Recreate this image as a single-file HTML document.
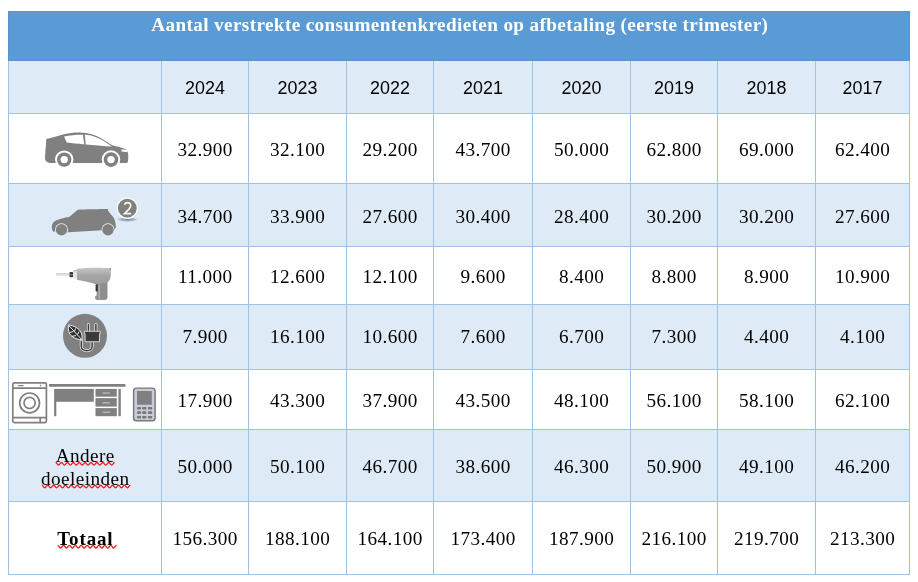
<!DOCTYPE html>
<html><head><meta charset="utf-8"><style>
html,body{margin:0;padding:0;background:#fff;width:918px;height:582px;overflow:hidden;}
.r{position:absolute;}
.t{position:absolute;will-change:transform;line-height:30px;height:30px;text-align:center;white-space:nowrap;color:#000;}

svg{position:absolute;}
</style></head><body>
<div class="r" style="left:8px;top:11px;width:902px;height:50px;background:#5B9BD5"></div>
<div class="r" style="left:8px;top:61px;width:902px;height:52px;background:#DEEAF6"></div>
<div class="r" style="left:8px;top:184px;width:902px;height:62px;background:#DEEAF6"></div>
<div class="r" style="left:8px;top:305px;width:902px;height:64px;background:#DEEAF6"></div>
<div class="r" style="left:8px;top:430px;width:902px;height:71px;background:#DEEAF6"></div>
<div class="r" style="left:8px;top:60px;width:1px;height:515px;background:#9DC3E6"></div>
<div class="r" style="left:161px;top:60px;width:1px;height:515px;background:#9DC3E6"></div>
<div class="r" style="left:248px;top:60px;width:1px;height:515px;background:#9DC3E6"></div>
<div class="r" style="left:346px;top:60px;width:1px;height:515px;background:#9DC3E6"></div>
<div class="r" style="left:433px;top:60px;width:1px;height:515px;background:#9DC3E6"></div>
<div class="r" style="left:532px;top:60px;width:1px;height:515px;background:#9DC3E6"></div>
<div class="r" style="left:630px;top:60px;width:1px;height:515px;background:#9DC3E6"></div>
<div class="r" style="left:717px;top:60px;width:1px;height:515px;background:#9DC3E6"></div>
<div class="r" style="left:815px;top:60px;width:1px;height:515px;background:#9DC3E6"></div>
<div class="r" style="left:909px;top:60px;width:1px;height:515px;background:#9DC3E6"></div>
<div class="r" style="left:8px;top:113px;width:902px;height:1px;background:#9DC3E6"></div>
<div class="r" style="left:8px;top:183px;width:902px;height:1px;background:#9DC3E6"></div>
<div class="r" style="left:8px;top:246px;width:902px;height:1px;background:#9DC3E6"></div>
<div class="r" style="left:8px;top:304px;width:902px;height:1px;background:#9DC3E6"></div>
<div class="r" style="left:8px;top:369px;width:902px;height:1px;background:#9DC3E6"></div>
<div class="r" style="left:8px;top:429px;width:902px;height:1px;background:#9DC3E6"></div>
<div class="r" style="left:8px;top:501px;width:902px;height:1px;background:#9DC3E6"></div>
<div class="r" style="left:8px;top:574px;width:902px;height:1px;background:#9DC3E6"></div>
<div class="r" style="left:8px;top:11px;width:902px;height:1px;background:#5396D4"></div>
<div class="r" style="left:8px;top:60px;width:902px;height:1px;background:#5396D4"></div>
<div class="r" style="left:8px;top:11px;width:1px;height:50px;background:#5396D4"></div>
<div class="r" style="left:909px;top:11px;width:1px;height:50px;background:#5396D4"></div>
<div class="t" style="left:8px;width:902px;top:10.02px;font-family:'Liberation Serif', serif;font-size:19.2px;font-weight:bold;color:#fff;letter-spacing:0.37px;text-indent:1.6px;">Aantal verstrekte consumentenkredieten op afbetaling (eerste trimester)</div>
<div class="t" style="left:162px;width:86px;top:72.60px;font-family:'Liberation Sans', sans-serif;font-size:17.9px;">2024</div>
<div class="t" style="left:249px;width:97px;top:72.60px;font-family:'Liberation Sans', sans-serif;font-size:17.9px;">2023</div>
<div class="t" style="left:347px;width:86px;top:72.60px;font-family:'Liberation Sans', sans-serif;font-size:17.9px;">2022</div>
<div class="t" style="left:434px;width:98px;top:72.60px;font-family:'Liberation Sans', sans-serif;font-size:17.9px;">2021</div>
<div class="t" style="left:533px;width:97px;top:72.60px;font-family:'Liberation Sans', sans-serif;font-size:17.9px;">2020</div>
<div class="t" style="left:631px;width:86px;top:72.60px;font-family:'Liberation Sans', sans-serif;font-size:17.9px;">2019</div>
<div class="t" style="left:718px;width:97px;top:72.60px;font-family:'Liberation Sans', sans-serif;font-size:17.9px;">2018</div>
<div class="t" style="left:816px;width:93px;top:72.60px;font-family:'Liberation Sans', sans-serif;font-size:17.9px;">2017</div>
<div class="t" style="left:162px;width:86px;top:134.52px;font-family:'Liberation Serif', serif;font-size:19.2px;letter-spacing:0.4px;text-indent:0.4px;">32.900</div>
<div class="t" style="left:249px;width:97px;top:134.52px;font-family:'Liberation Serif', serif;font-size:19.2px;letter-spacing:0.4px;text-indent:0.4px;">32.100</div>
<div class="t" style="left:347px;width:86px;top:134.52px;font-family:'Liberation Serif', serif;font-size:19.2px;letter-spacing:0.4px;text-indent:0.4px;">29.200</div>
<div class="t" style="left:434px;width:98px;top:134.52px;font-family:'Liberation Serif', serif;font-size:19.2px;letter-spacing:0.4px;text-indent:0.4px;">43.700</div>
<div class="t" style="left:533px;width:97px;top:134.52px;font-family:'Liberation Serif', serif;font-size:19.2px;letter-spacing:0.4px;text-indent:0.4px;">50.000</div>
<div class="t" style="left:631px;width:86px;top:134.52px;font-family:'Liberation Serif', serif;font-size:19.2px;letter-spacing:0.4px;text-indent:0.4px;">62.800</div>
<div class="t" style="left:718px;width:97px;top:134.52px;font-family:'Liberation Serif', serif;font-size:19.2px;letter-spacing:0.4px;text-indent:0.4px;">69.000</div>
<div class="t" style="left:816px;width:93px;top:134.52px;font-family:'Liberation Serif', serif;font-size:19.2px;letter-spacing:0.4px;text-indent:0.4px;">62.400</div>
<div class="t" style="left:162px;width:86px;top:201.52px;font-family:'Liberation Serif', serif;font-size:19.2px;letter-spacing:0.4px;text-indent:0.4px;">34.700</div>
<div class="t" style="left:249px;width:97px;top:201.52px;font-family:'Liberation Serif', serif;font-size:19.2px;letter-spacing:0.4px;text-indent:0.4px;">33.900</div>
<div class="t" style="left:347px;width:86px;top:201.52px;font-family:'Liberation Serif', serif;font-size:19.2px;letter-spacing:0.4px;text-indent:0.4px;">27.600</div>
<div class="t" style="left:434px;width:98px;top:201.52px;font-family:'Liberation Serif', serif;font-size:19.2px;letter-spacing:0.4px;text-indent:0.4px;">30.400</div>
<div class="t" style="left:533px;width:97px;top:201.52px;font-family:'Liberation Serif', serif;font-size:19.2px;letter-spacing:0.4px;text-indent:0.4px;">28.400</div>
<div class="t" style="left:631px;width:86px;top:201.52px;font-family:'Liberation Serif', serif;font-size:19.2px;letter-spacing:0.4px;text-indent:0.4px;">30.200</div>
<div class="t" style="left:718px;width:97px;top:201.52px;font-family:'Liberation Serif', serif;font-size:19.2px;letter-spacing:0.4px;text-indent:0.4px;">30.200</div>
<div class="t" style="left:816px;width:93px;top:201.52px;font-family:'Liberation Serif', serif;font-size:19.2px;letter-spacing:0.4px;text-indent:0.4px;">27.600</div>
<div class="t" style="left:162px;width:86px;top:261.52px;font-family:'Liberation Serif', serif;font-size:19.2px;letter-spacing:0.4px;text-indent:0.4px;">11.000</div>
<div class="t" style="left:249px;width:97px;top:261.52px;font-family:'Liberation Serif', serif;font-size:19.2px;letter-spacing:0.4px;text-indent:0.4px;">12.600</div>
<div class="t" style="left:347px;width:86px;top:261.52px;font-family:'Liberation Serif', serif;font-size:19.2px;letter-spacing:0.4px;text-indent:0.4px;">12.100</div>
<div class="t" style="left:434px;width:98px;top:261.52px;font-family:'Liberation Serif', serif;font-size:19.2px;letter-spacing:0.4px;text-indent:0.4px;">9.600</div>
<div class="t" style="left:533px;width:97px;top:261.52px;font-family:'Liberation Serif', serif;font-size:19.2px;letter-spacing:0.4px;text-indent:0.4px;">8.400</div>
<div class="t" style="left:631px;width:86px;top:261.52px;font-family:'Liberation Serif', serif;font-size:19.2px;letter-spacing:0.4px;text-indent:0.4px;">8.800</div>
<div class="t" style="left:718px;width:97px;top:261.52px;font-family:'Liberation Serif', serif;font-size:19.2px;letter-spacing:0.4px;text-indent:0.4px;">8.900</div>
<div class="t" style="left:816px;width:93px;top:261.52px;font-family:'Liberation Serif', serif;font-size:19.2px;letter-spacing:0.4px;text-indent:0.4px;">10.900</div>
<div class="t" style="left:162px;width:86px;top:322.02px;font-family:'Liberation Serif', serif;font-size:19.2px;letter-spacing:0.4px;text-indent:0.4px;">7.900</div>
<div class="t" style="left:249px;width:97px;top:322.02px;font-family:'Liberation Serif', serif;font-size:19.2px;letter-spacing:0.4px;text-indent:0.4px;">16.100</div>
<div class="t" style="left:347px;width:86px;top:322.02px;font-family:'Liberation Serif', serif;font-size:19.2px;letter-spacing:0.4px;text-indent:0.4px;">10.600</div>
<div class="t" style="left:434px;width:98px;top:322.02px;font-family:'Liberation Serif', serif;font-size:19.2px;letter-spacing:0.4px;text-indent:0.4px;">7.600</div>
<div class="t" style="left:533px;width:97px;top:322.02px;font-family:'Liberation Serif', serif;font-size:19.2px;letter-spacing:0.4px;text-indent:0.4px;">6.700</div>
<div class="t" style="left:631px;width:86px;top:322.02px;font-family:'Liberation Serif', serif;font-size:19.2px;letter-spacing:0.4px;text-indent:0.4px;">7.300</div>
<div class="t" style="left:718px;width:97px;top:322.02px;font-family:'Liberation Serif', serif;font-size:19.2px;letter-spacing:0.4px;text-indent:0.4px;">4.400</div>
<div class="t" style="left:816px;width:93px;top:322.02px;font-family:'Liberation Serif', serif;font-size:19.2px;letter-spacing:0.4px;text-indent:0.4px;">4.100</div>
<div class="t" style="left:162px;width:86px;top:385.52px;font-family:'Liberation Serif', serif;font-size:19.2px;letter-spacing:0.4px;text-indent:0.4px;">17.900</div>
<div class="t" style="left:249px;width:97px;top:385.52px;font-family:'Liberation Serif', serif;font-size:19.2px;letter-spacing:0.4px;text-indent:0.4px;">43.300</div>
<div class="t" style="left:347px;width:86px;top:385.52px;font-family:'Liberation Serif', serif;font-size:19.2px;letter-spacing:0.4px;text-indent:0.4px;">37.900</div>
<div class="t" style="left:434px;width:98px;top:385.52px;font-family:'Liberation Serif', serif;font-size:19.2px;letter-spacing:0.4px;text-indent:0.4px;">43.500</div>
<div class="t" style="left:533px;width:97px;top:385.52px;font-family:'Liberation Serif', serif;font-size:19.2px;letter-spacing:0.4px;text-indent:0.4px;">48.100</div>
<div class="t" style="left:631px;width:86px;top:385.52px;font-family:'Liberation Serif', serif;font-size:19.2px;letter-spacing:0.4px;text-indent:0.4px;">56.100</div>
<div class="t" style="left:718px;width:97px;top:385.52px;font-family:'Liberation Serif', serif;font-size:19.2px;letter-spacing:0.4px;text-indent:0.4px;">58.100</div>
<div class="t" style="left:816px;width:93px;top:385.52px;font-family:'Liberation Serif', serif;font-size:19.2px;letter-spacing:0.4px;text-indent:0.4px;">62.100</div>
<div class="t" style="left:162px;width:86px;top:451.52px;font-family:'Liberation Serif', serif;font-size:19.2px;letter-spacing:0.4px;text-indent:0.4px;">50.000</div>
<div class="t" style="left:249px;width:97px;top:451.52px;font-family:'Liberation Serif', serif;font-size:19.2px;letter-spacing:0.4px;text-indent:0.4px;">50.100</div>
<div class="t" style="left:347px;width:86px;top:451.52px;font-family:'Liberation Serif', serif;font-size:19.2px;letter-spacing:0.4px;text-indent:0.4px;">46.700</div>
<div class="t" style="left:434px;width:98px;top:451.52px;font-family:'Liberation Serif', serif;font-size:19.2px;letter-spacing:0.4px;text-indent:0.4px;">38.600</div>
<div class="t" style="left:533px;width:97px;top:451.52px;font-family:'Liberation Serif', serif;font-size:19.2px;letter-spacing:0.4px;text-indent:0.4px;">46.300</div>
<div class="t" style="left:631px;width:86px;top:451.52px;font-family:'Liberation Serif', serif;font-size:19.2px;letter-spacing:0.4px;text-indent:0.4px;">50.900</div>
<div class="t" style="left:718px;width:97px;top:451.52px;font-family:'Liberation Serif', serif;font-size:19.2px;letter-spacing:0.4px;text-indent:0.4px;">49.100</div>
<div class="t" style="left:816px;width:93px;top:451.52px;font-family:'Liberation Serif', serif;font-size:19.2px;letter-spacing:0.4px;text-indent:0.4px;">46.200</div>
<div class="t" style="left:162px;width:86px;top:523.52px;font-family:'Liberation Serif', serif;font-size:19.2px;letter-spacing:0.4px;text-indent:0.4px;">156.300</div>
<div class="t" style="left:249px;width:97px;top:523.52px;font-family:'Liberation Serif', serif;font-size:19.2px;letter-spacing:0.4px;text-indent:0.4px;">188.100</div>
<div class="t" style="left:347px;width:86px;top:523.52px;font-family:'Liberation Serif', serif;font-size:19.2px;letter-spacing:0.4px;text-indent:0.4px;">164.100</div>
<div class="t" style="left:434px;width:98px;top:523.52px;font-family:'Liberation Serif', serif;font-size:19.2px;letter-spacing:0.4px;text-indent:0.4px;">173.400</div>
<div class="t" style="left:533px;width:97px;top:523.52px;font-family:'Liberation Serif', serif;font-size:19.2px;letter-spacing:0.4px;text-indent:0.4px;">187.900</div>
<div class="t" style="left:631px;width:86px;top:523.52px;font-family:'Liberation Serif', serif;font-size:19.2px;letter-spacing:0.4px;text-indent:0.4px;">216.100</div>
<div class="t" style="left:718px;width:97px;top:523.52px;font-family:'Liberation Serif', serif;font-size:19.2px;letter-spacing:0.4px;text-indent:0.4px;">219.700</div>
<div class="t" style="left:816px;width:93px;top:523.52px;font-family:'Liberation Serif', serif;font-size:19.2px;letter-spacing:0.4px;text-indent:0.4px;">213.300</div>
<svg width="918" height="582" style="left:0;top:0"><path d="M55.60 462.50 C57.08 462.50,57.08 465.00,58.55 465.00 C60.03 465.00,60.03 462.50,61.50 462.50 C62.98 462.50,62.98 465.00,64.45 465.00 C65.92 465.00,65.92 462.50,67.40 462.50 C68.88 462.50,68.88 465.00,70.35 465.00 C71.83 465.00,71.83 462.50,73.30 462.50 C74.78 462.50,74.78 465.00,76.25 465.00 C77.73 465.00,77.73 462.50,79.20 462.50 C80.68 462.50,80.68 465.00,82.15 465.00 C83.63 465.00,83.63 462.50,85.10 462.50 C86.58 462.50,86.58 465.00,88.05 465.00 C89.53 465.00,89.53 462.50,91.00 462.50 C92.48 462.50,92.48 465.00,93.95 465.00 C95.43 465.00,95.43 462.50,96.90 462.50 C98.38 462.50,98.38 465.00,99.85 465.00 C101.33 465.00,101.33 462.50,102.80 462.50 C104.28 462.50,104.28 465.00,105.75 465.00 C107.23 465.00,107.23 462.50,108.70 462.50 C110.18 462.50,110.18 465.00,111.65 465.00 C113.13 465.00,113.13 462.50,114.60 462.50 M41.80 485.20 C43.27 485.20,43.27 487.80,44.75 487.80 C46.23 487.80,46.23 485.20,47.70 485.20 C49.18 485.20,49.18 487.80,50.65 487.80 C52.13 487.80,52.13 485.20,53.60 485.20 C55.08 485.20,55.08 487.80,56.55 487.80 C58.03 487.80,58.03 485.20,59.50 485.20 C60.98 485.20,60.98 487.80,62.45 487.80 C63.93 487.80,63.93 485.20,65.40 485.20 C66.88 485.20,66.88 487.80,68.35 487.80 C69.83 487.80,69.83 485.20,71.30 485.20 C72.78 485.20,72.78 487.80,74.25 487.80 C75.73 487.80,75.73 485.20,77.20 485.20 C78.68 485.20,78.68 487.80,80.15 487.80 C81.63 487.80,81.63 485.20,83.10 485.20 C84.58 485.20,84.58 487.80,86.05 487.80 C87.53 487.80,87.53 485.20,89.00 485.20 C90.48 485.20,90.48 487.80,91.95 487.80 C93.43 487.80,93.43 485.20,94.90 485.20 C96.38 485.20,96.38 487.80,97.85 487.80 C99.33 487.80,99.33 485.20,100.80 485.20 C102.28 485.20,102.28 487.80,103.75 487.80 C105.23 487.80,105.23 485.20,106.70 485.20 C108.18 485.20,108.18 487.80,109.65 487.80 C111.13 487.80,111.13 485.20,112.60 485.20 C114.08 485.20,114.08 487.80,115.55 487.80 C117.03 487.80,117.03 485.20,118.50 485.20 C119.98 485.20,119.98 487.80,121.45 487.80 C122.93 487.80,122.93 485.20,124.40 485.20 C125.88 485.20,125.88 487.80,127.35 487.80 C128.83 487.80,128.83 485.20,130.30 485.20 M57.60 545.40 C59.08 545.40,59.08 548.00,60.55 548.00 C62.03 548.00,62.03 545.40,63.50 545.40 C64.98 545.40,64.98 548.00,66.45 548.00 C67.92 548.00,67.92 545.40,69.40 545.40 C70.88 545.40,70.88 548.00,72.35 548.00 C73.83 548.00,73.83 545.40,75.30 545.40 C76.78 545.40,76.78 548.00,78.25 548.00 C79.73 548.00,79.73 545.40,81.20 545.40 C82.68 545.40,82.68 548.00,84.15 548.00 C85.63 548.00,85.63 545.40,87.10 545.40 C88.58 545.40,88.58 548.00,90.05 548.00 C91.53 548.00,91.53 545.40,93.00 545.40 C94.48 545.40,94.48 548.00,95.95 548.00 C97.43 548.00,97.43 545.40,98.90 545.40 C100.38 545.40,100.38 548.00,101.85 548.00 C103.33 548.00,103.33 545.40,104.80 545.40 C106.28 545.40,106.28 548.00,107.75 548.00 C109.23 548.00,109.23 545.40,110.70 545.40 C112.18 545.40,112.18 548.00,113.65 548.00 C115.13 548.00,115.13 545.40,116.60 545.40" fill="none" stroke="#EE1C1C" stroke-width="1.4"/></svg>
<div class="t" style="left:9px;width:152px;top:441.12px;font-family:'Liberation Serif', serif;font-size:19.2px;letter-spacing:0.45px;text-indent:0.45px;"><span class="sq">Andere</span></div>
<div class="t" style="left:9px;width:152px;top:464.02px;font-family:'Liberation Serif', serif;font-size:19.2px;letter-spacing:0.45px;text-indent:0.45px;"><span class="sq">doeleinden</span></div>
<div class="t" style="left:9px;width:152px;top:523.59px;font-family:'Liberation Serif', serif;font-size:19px;font-weight:bold;letter-spacing:0.85px;text-indent:0.85px;"><span class="sq">Totaal</span></div>
<svg width="918" height="582" viewBox="0 0 918 582" style="left:0;top:0">
<defs>
<linearGradient id="dg" x1="0" y1="0" x2="0" y2="1">
<stop offset="0" stop-color="#c4c4c4"/><stop offset="0.25" stop-color="#a6a6a6"/><stop offset="1" stop-color="#8c8c8c"/>
</linearGradient>
<radialGradient id="shd" cx="0.5" cy="0.5" r="0.5">
<stop offset="0" stop-color="#5f718a" stop-opacity="0.8"/><stop offset="0.6" stop-color="#5f718a" stop-opacity="0.45"/><stop offset="1" stop-color="#5f718a" stop-opacity="0"/>
</radialGradient>
<clipPath id="c2clip"><path d="M51.8 226.5 C51.9 223.5,53.5 221.5,56 220.5 C59.5 218.8,64 217.6,69.2 216.9 L77.8 209.8 C86 209.3,98 209.2,108.4 209.1 L107.8 210.4 L113.9 218 C115.2 221,115.8 224,115.9 227.8 L113.9 229.8 L102.1 230.2 L68.4 232.2 L53.1 231.6 C52.2 230.3,51.7 228.5,51.8 226.5 Z"/></clipPath>
</defs>
<!-- car 1 -->
<g fill="#808080">
<path d="M46.2 138.9 C52 137.8,58 135.6,64 134.2 C70 132.8,76 132.4,80 132.6 C88 132.9,96 135,102 138.8 L112.2 145.3 C117 146.6,122 147.6,126.6 149.4 L127.9 152.3 C128.5 155,128.4 159.5,127.7 162.5 C127.3 162.8,127 162.9,126.5 162.9 L50.2 162.9 C46.4 162.5,45 160.5,45 157.8 L45.4 150.5 C45.9 146,46.2 142.5,46.2 138.9 Z"/>
</g>
<g fill="#fff">
<path d="M64 136.6 C70 135.3,77 134.7,82.8 134.8 L84.3 144.4 C78 143.8,72 143.2,66.8 142.6 Z"/>
<path d="M84.7 134.8 C93 135.2,101 138.5,111.9 146.6 C103 146,94 145,85.8 144.4 Z"/>
<path d="M121.1 149.5 L126.9 149.7 L127.8 152.3 L121.6 151.4 Z"/>
<circle cx="64.2" cy="159.6" r="9.2"/><circle cx="111" cy="159.6" r="9.3"/>
</g>
<g fill="#808080">
<circle cx="64.2" cy="159.6" r="7.2"/><circle cx="111" cy="159.6" r="7.3"/>
</g>
<g fill="#fff"><circle cx="64.2" cy="159.6" r="3.7"/><circle cx="111" cy="159.6" r="3.7"/></g>
<!-- car 2 -->
<path fill="#808080" d="M51.8 226.5 C51.9 223.5,53.5 221.5,56 220.5 C59.5 218.8,64 217.6,69.2 216.9 L77.8 209.8 C86 209.3,98 209.2,108.4 209.1 L107.8 210.4 L113.9 218 C115.2 221,115.8 224,115.9 227.8 L113.9 229.8 L102.1 230.2 L68.4 232.2 L53.1 231.6 C52.2 230.3,51.7 228.5,51.8 226.5 Z"/>
<g clip-path="url(#c2clip)" fill="#eef2f8"><circle cx="61.5" cy="229.8" r="6.5"/><circle cx="108" cy="229.8" r="6.5"/></g>
<g fill="#808080"><circle cx="61.5" cy="229.8" r="5.7"/><circle cx="108" cy="229.8" r="5.7"/></g>
<!-- badge -->
<ellipse cx="127.3" cy="219.4" rx="10.8" ry="2.6" fill="url(#shd)"/>
<circle cx="127.3" cy="208.1" r="10.9" fill="#fbfaf3"/>
<circle cx="127.3" cy="208.1" r="9.4" fill="#808080"/>
<path d="M124.4 204.6 C125 203.2,126.2 202.6,127.6 202.6 C129.5 202.6,130.7 203.9,130.7 205.6 C130.7 206.9,130.1 207.8,129.2 208.9 L124.5 213.6 L131.2 213.6" fill="none" stroke="#fbfaf3" stroke-width="1.6"/>
<!-- drill -->
<rect x="56" y="273" width="13" height="2.6" rx="1" fill="#c9c9c9"/>
<rect x="57" y="273.6" width="11" height="1.2" fill="#e6e6e6"/>
<rect x="69.5" y="272" width="3.7" height="5.2" rx="0.8" fill="#3a3a3a"/>
<rect x="70" y="274" width="3" height="1.2" fill="#777"/>
<path d="M73 270.6 L77.5 269.6 L77.5 279.6 L73 278.3 Z" fill="#e4e4e4"/>
<path d="M73 270.6 L77.5 269.6 L77.5 271 L73 271.6 Z" fill="#bdbdbd"/>
<path d="M77 268.8 C85 267.6,100 267.3,110.3 268.2 C110.9 270,111 274,110.5 277.5 C110 280,108.5 281.5,107.3 282.6 L107.3 297.5 C107 299,106 299.7,105 299.7 L97 299.7 C96 299.6,95.4 299,95.4 298 L95.4 296.6 C95.8 296.2,96.5 296,96.8 295.6 L96.8 284.5 C90 282.5,83 280.8,77 279.8 Z" fill="url(#dg)"/>
<path d="M96.8 284.5 L107.3 282.6 L107.3 297.5 C107 299,106 299.7,105 299.7 L97 299.7 C96 299.6,95.4 299,95.4 298 L95.4 296.6 C95.8 296.2,96.5 296,96.8 295.6 Z" fill="#8f8f8f"/>
<path d="M109.6 268.1 L110.6 268.3 L110.9 270.2 L109.8 269.6 Z" fill="#666"/>
<rect x="95.6" y="284.3" width="2.2" height="7.2" rx="0.9" fill="#353535"/>
<rect x="98.6" y="285" width="1.2" height="14" fill="#b9b9b9"/>
<!-- plug -->
<circle cx="85" cy="335.8" r="22" fill="#808080"/>
<g stroke="#f0f0f0" stroke-width="3" fill="none" stroke-linecap="round">
<path d="M88.4 324.4 L88.4 331.6 M95.9 324.4 L95.9 331.6"/>
<path d="M92.1 342 L92.1 346.5 C92.1 352,81.3 352,81.3 346.5 L81.3 340.6"/>
</g>
<g stroke="#3c3c3c" stroke-width="1.5" fill="none" stroke-linecap="round">
<path d="M88.4 324.6 L88.4 331.6 M95.9 324.6 L95.9 331.6"/>
<path d="M92.1 342 L92.1 346.5 C92.1 352,81.3 352,81.3 346.5 L81.3 341"/>
</g>
<path d="M84.3 331.3 L100.2 331.3 L100.2 333.7 L99.5 333.7 L99.5 341.7 L85.1 341.7 L85.1 333.7 L84.3 333.7 Z" fill="#3a3a3a" stroke="#f0f0f0" stroke-width="0.8"/>
<path d="M68.5 325 C74 325.5,79.5 328.5,81.3 333 C82.2 335.5,82.2 337.8,81.9 339.8 C79 339.8,75 338.6,72 336.4 C68.8 334,68 329.5,68.5 325 Z" fill="#2e2e2e" stroke="#f2f2f2" stroke-width="1"/>
<path d="M69.3 326 L81.5 339.3 M74.4 331.6 L75.6 328.4 M77.3 334.6 L79.2 331.4 M73.2 331.6 L69.9 332.4 M75.9 335.6 L71.9 336.3" stroke="#f2f2f2" stroke-width="1" fill="none"/>
<!-- washing machine -->
<g fill="none" stroke="#808080" stroke-width="1.7">
<rect x="12.8" y="382.8" width="33.6" height="39.8" rx="1.6"/>
<path d="M12.8 388.1 L46.4 388.1 M12.8 417.6 L46.4 417.6 M40.2 417.6 L40.2 422.6"/>
<circle cx="29.6" cy="402.9" r="9.9"/>
<circle cx="29.6" cy="402.9" r="5.6"/>
</g>
<path d="M17.8 385.6 L23.6 385.6" stroke="#808080" stroke-width="1.2"/>
<circle cx="40.5" cy="385.6" r="0.8" fill="#808080"/>
<!-- desk -->
<g fill="#808080">
<rect x="48.9" y="383.9" width="76.7" height="2.9" rx="1"/>
<rect x="54.1" y="388.9" width="39.7" height="12.9"/>
<rect x="54.1" y="401" width="2.2" height="15.2"/>
<rect x="95.5" y="388.9" width="21.3" height="7.8"/>
<rect x="95.5" y="398.1" width="21.3" height="8.5"/>
<rect x="95.5" y="408.1" width="21.3" height="8.1"/>
<rect x="118.4" y="388.9" width="2.4" height="27.3"/>
</g>
<g fill="#b4b6c0">
<rect x="102.5" y="392.4" width="7.4" height="1.4"/>
<rect x="102.5" y="402.1" width="7.4" height="1.4"/>
<rect x="102.5" y="411.5" width="7.4" height="1.4"/>
</g>
<!-- phone -->
<rect x="133.6" y="388.1" width="21.5" height="32.6" rx="2.8" fill="#c8cbda" stroke="#787878" stroke-width="1.45"/>
<rect x="137" y="391" width="14.8" height="13.8" fill="#808080"/>
<g fill="#777">
<rect x="137" y="406.9" width="4" height="2.6" rx="0.8"/><rect x="142.1" y="406.9" width="4.3" height="2.6" rx="0.8"/><rect x="147.9" y="406.9" width="4.3" height="2.6" rx="0.8"/>
<rect x="137" y="411.3" width="4" height="2.6" rx="0.8"/><rect x="142.1" y="411.3" width="4.3" height="2.6" rx="0.8"/><rect x="147.9" y="411.3" width="4.3" height="2.6" rx="0.8"/>
<rect x="137" y="416" width="4" height="2.6" rx="0.8"/><rect x="142.1" y="416" width="4.3" height="2.6" rx="0.8"/><rect x="147.9" y="416" width="4.3" height="2.6" rx="0.8"/>
</g>
</svg>

</body></html>
